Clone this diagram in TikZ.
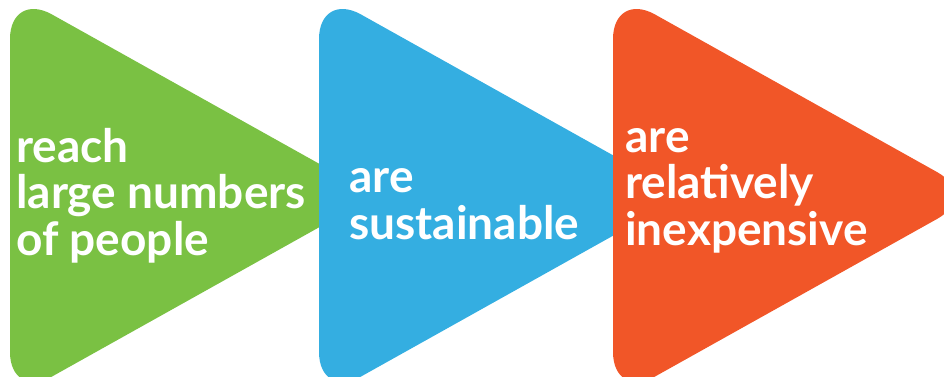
\documentclass[tikz,border=0pt]{standalone}
\usepackage{fontspec}
\setmainfont{Lato}[UprightFont=* Bold]
\definecolor{leafgreen}{HTML}{7AC143}
\definecolor{skyblue}{HTML}{34AEE1}
\definecolor{flame}{HTML}{F15628}
\tikzset{
  arrowhead/.style={fill=#1, draw=none, rounded corners=48pt},
  label/.style={anchor=base west, align=left, text=white, inner sep=0pt,
    font=\fontsize{46}{46.5}\selectfont},
}
% one right-pointing triangle with its left edge at x = #1
\newcommand{\pointer}[2]{%
  \fill[arrowhead=#2] (#1,195.5) -- (#1,-9) -- (#1+366,195.5) -- (#1,400) -- cycle;}
\begin{document}
\begin{tikzpicture}[x=1pt,y=-1pt]
  \useasboundingbox (0,0) rectangle (944,376);
  \clip (0,0) rectangle (944,376);
  \pointer{10}{leafgreen}
  \pointer{319}{skyblue}
  \pointer{613}{flame}
  % anchored at the baseline of each block's last line
  \node[label] (reach) at (16,255) {reach\\large numbers\\of people};
  \node[label] (sustain) at (349,239) {are\\sustainable};
  \node[label] (cheap) at (625,245) {are\\relatively\\inexpensive};
\end{tikzpicture}
\end{document}
